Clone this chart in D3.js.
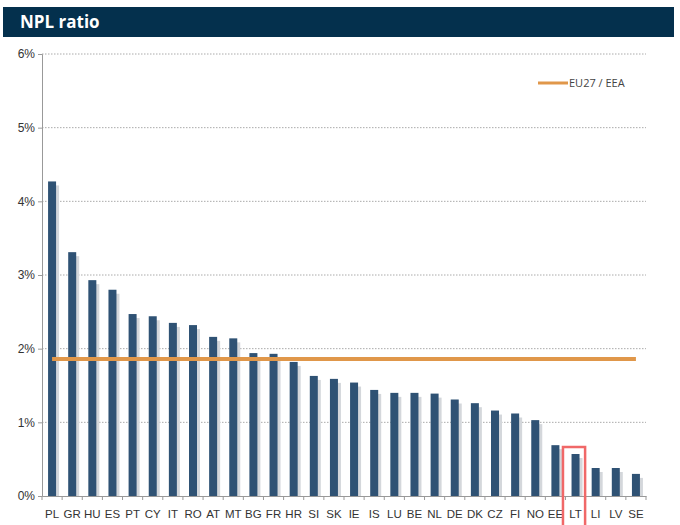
<!DOCTYPE html>
<html>
<head>
<meta charset="utf-8">
<script src="https://cdn.jsdelivr.net/npm/d3@7"></script>
<style>
  body { margin: 0; background: #fff; }
  svg { display: block; font-family: "Open Sans", "Liberation Sans", sans-serif; }
</style>
</head>
<body>
<div id="chart"></div>
<script>
// Paesi e valori (NPL ratio, %)
const countries = ["PL","GR","HU","ES","PT","CY","IT","RO","AT","MT","BG","FR","HR","SI","SK",
                   "IE","IS","LU","BE","NL","DE","DK","CZ","FI","NO","EE","LT","LI","LV","SE"];
const nplValues = [4.27, 3.31, 2.93, 2.80, 2.47, 2.44, 2.35, 2.32, 2.16, 2.14, 1.94, 1.93, 1.82, 1.63, 1.59,
                   1.54, 1.44, 1.40, 1.40, 1.39, 1.31, 1.26, 1.16, 1.12, 1.03, 0.69, 0.57, 0.38, 0.38, 0.30];
const euAverage = 1.86;
const yTicks = [0, 1, 2, 3, 4, 5, 6];
const highlight = "LT";

const width = 680, height = 525;
const margin = { top: 54, right: 34, bottom: 29, left: 42 };

const svg = d3.select("#chart").append("svg")
    .attr("width", width)
    .attr("height", height);

// Barra del titolo
svg.append("rect")
    .attr("x", 3).attr("y", 7)
    .attr("width", 671).attr("height", 30)
    .attr("fill", "#04304d");
svg.append("text")
    .attr("x", 20).attr("y", 28)
    .attr("fill", "#fff")
    .attr("font-size", 17)
    .attr("font-weight", "bold")
    .text("NPL ratio");

const x = d3.scaleBand()
    .domain(countries)
    .range([margin.left, width - margin.right]);

const y = d3.scaleLinear()
    .domain([0, 6])
    .range([height - margin.bottom, margin.top]);

// Griglia
svg.append("g")
    .selectAll("line")
    .data(yTicks.filter(d => d > 0))
    .enter().append("line")
    .attr("x1", margin.left)
    .attr("x2", width - margin.right)
    .attr("y1", d => y(d))
    .attr("y2", d => y(d))
    .attr("stroke", "#aaa")
    .attr("stroke-width", 1)
    .attr("stroke-dasharray", "1.5,1.5");

// Asse Y
const yAxis = svg.append("g")
    .attr("transform", `translate(${margin.left},0)`)
    .call(d3.axisLeft(y).tickValues(yTicks).tickFormat(d => d + "%").tickSize(4));
yAxis.select(".domain").attr("stroke", "#999");
yAxis.selectAll(".tick line").attr("stroke", "#999");
yAxis.selectAll(".tick text")
    .attr("x", -7)
    .attr("fill", "#333")
    .attr("font-size", 12);

// Asse X
const xAxis = svg.append("g")
    .attr("transform", `translate(0,${y(0)})`)
    .call(d3.axisBottom(x).tickSize(0).tickPadding(14));
xAxis.select(".domain").attr("stroke", "#999");
xAxis.selectAll(".tick text")
    .attr("fill", "#333")
    .attr("font-size", 11.5);

// Tacche tra le categorie
svg.append("g")
    .selectAll("line")
    .data(countries.concat(["end"]))
    .enter().append("line")
    .attr("x1", (d, i) => x.range()[0] + i * x.step())
    .attr("x2", (d, i) => x.range()[0] + i * x.step())
    .attr("y1", y(0))
    .attr("y2", y(0) + 4)
    .attr("stroke", "#999");

const barW = 8;

// Ombre delle barre
svg.append("g")
    .selectAll("rect")
    .data(countries)
    .enter().append("rect")
    .attr("x", d => x(d) + x.bandwidth() / 2 - barW / 2 + 3)
    .attr("y", (d, i) => y(nplValues[i]) + 4)
    .attr("width", barW)
    .attr("height", (d, i) => y(0) - y(nplValues[i]) - 4)
    .attr("fill", "#d4d7db");

// Barre
svg.append("g")
    .selectAll("rect")
    .data(countries)
    .enter().append("rect")
    .attr("x", d => x(d) + x.bandwidth() / 2 - barW / 2)
    .attr("y", (d, i) => y(nplValues[i]))
    .attr("width", barW)
    .attr("height", (d, i) => y(0) - y(nplValues[i]))
    .attr("fill", "#2f5274");

// Linea media EU27 / EEA
svg.append("line")
    .attr("x1", x(countries[0]) + x.bandwidth() / 2)
    .attr("x2", x(countries[countries.length - 1]) + x.bandwidth() / 2)
    .attr("y1", y(euAverage))
    .attr("y2", y(euAverage))
    .attr("stroke", "#e0974a")
    .attr("stroke-width", 4);

// Legenda
svg.append("line")
    .attr("x1", 538).attr("x2", 568)
    .attr("y1", 83).attr("y2", 83)
    .attr("stroke", "#e0974a")
    .attr("stroke-width", 3);
svg.append("text")
    .attr("x", 569).attr("y", 87)
    .attr("fill", "#444")
    .attr("font-size", 11)
    .text("EU27 / EEA");

// Riquadro evidenziato
const hx = x(highlight);
svg.append("rect")
    .attr("x", hx - 2.5)
    .attr("y", y(nplValues[countries.indexOf(highlight)]) - 7)
    .attr("width", x.bandwidth() + 2)
    .attr("height", 100)
    .attr("fill", "none")
    .attr("stroke", "#f06868")
    .attr("stroke-width", 2.5);
</script>
</body>
</html>
